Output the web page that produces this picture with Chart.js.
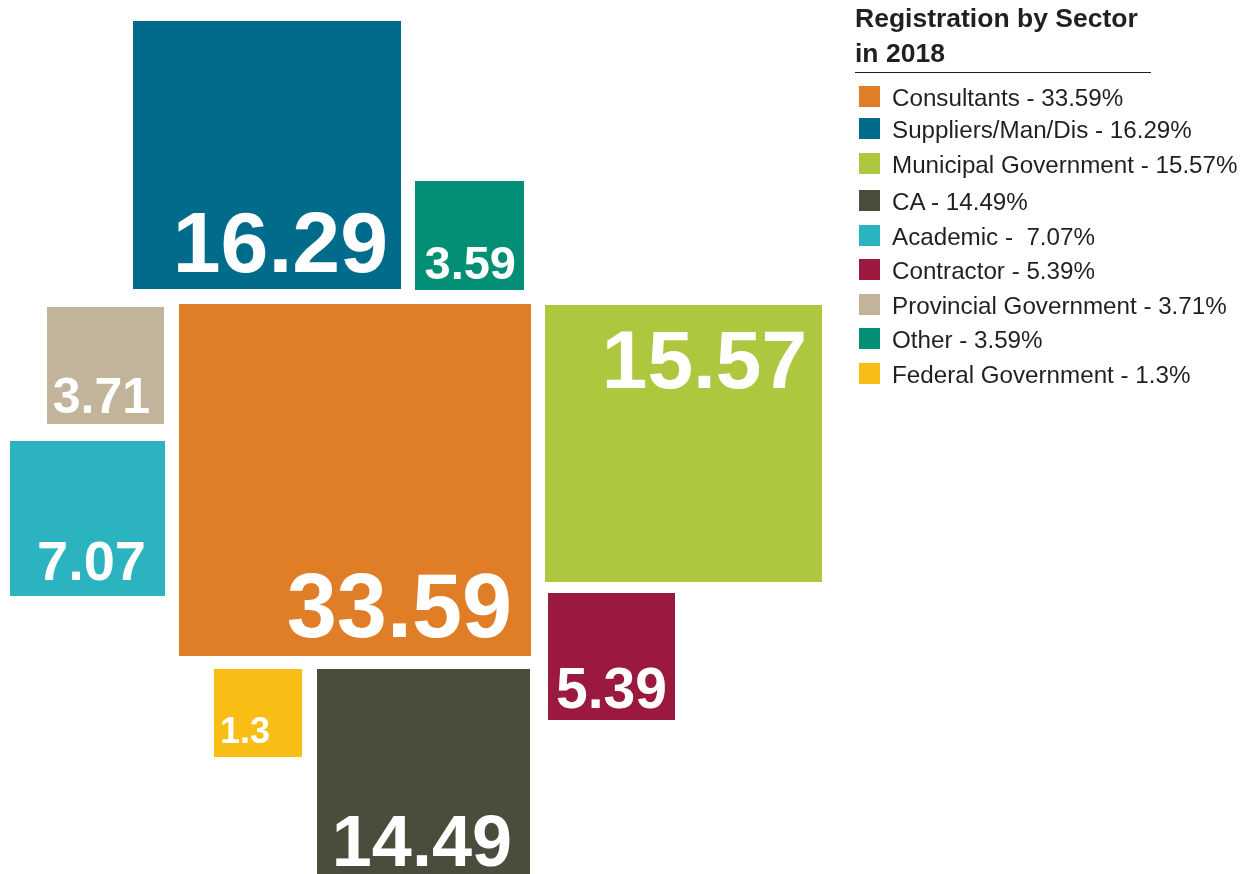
<!DOCTYPE html>
<html>
<head>
<meta charset="utf-8">
<script src="https://cdn.jsdelivr.net/npm/chart.js@4"></script>
<style>
	html, body { margin: 0; padding: 0; background: #fff; }
	#wrap { position: relative; width: 1259px; height: 874px; overflow: hidden; }
	#chart-squares { position: absolute; left: 0; top: 0; }
	#legend { position: absolute; left: 855px; top: 0; font-family: "Liberation Sans", Arial, sans-serif; color: #231f20; }
	#legend h1 { margin: 0; font-size: 26.5px; line-height: 35px; font-weight: bold; padding-top: 1px; width: 296px; border-bottom: 1px solid #231f20; padding-bottom: 1px; }
	#legend .item { position: absolute; left: 4px; height: 22px; white-space: pre; font-size: 24.2px; line-height: 22px; }
	#legend .sw { position: absolute; left: 0; top: 0; width: 21px; height: 21px; }
	#legend .tx { position: absolute; left: 33px; top: 1px; }
</style>
</head>
<body>
<div id="wrap">
	<canvas id="chart-squares" width="1259" height="874"></canvas>
	<div id="legend"><h1>Registration by Sector<br>in 2018</h1></div>
</div>
<script>
// Chart data
const SECTORS = ["Consultants", "Suppliers/Man/Dis", "Municipal Government", "CA", "Academic", "Contractor", "Provincial Government", "Other", "Federal Government"];
const SHARES = [33.59, 16.29, 15.57, 14.49, 7.07, 5.39, 3.71, 3.59, 1.3];
const LEGEND_SEP = [" - ", " - ", " - ", " - ", " -  ", " - ", " - ", " - ", " - "];

// Colours
const COLORS = ["#e07e27", "#006b8a", "#adc83e", "#4a4d3c", "#2cb3c0", "#9b193e", "#c1b49a", "#028f76", "#f8be16"];

// Layout (in scale units, 1 unit = 1 px)
const BOX_LEFT = [179, 133, 545, 317, 10, 548, 47, 415, 214];
const BOX_TOP = [304, 21, 305, 669, 441, 593, 307, 181, 669];
const BOX_SIDE = [352, 268, 277, 213, 155, 127, 117, 109, 88];
const LABEL_SIZE = [90, 86, 82, 72, 56, 57, 50, 47, 36];
// corner the label hangs from, and its offsets
const LABEL_CORNER = ["br", "br", "tr", "br", "br", "br", "br", "br", "bl"];
const LABEL_DX = [19, 13, 15, 18, 19, 8, 14, 8, 6];
const LABEL_DY = [19, 17, 83, 16, 16, 12, 11, 11, 14];
const LEGEND_TOP = [86, 118, 153, 190, 225, 259, 294, 328, 363];

const squareLabels = {
	id: "squareLabels",
	afterDatasetsDraw(chart) {
		const { ctx, scales } = chart;
		ctx.save();
		ctx.fillStyle = "#ffffff";
		ctx.textBaseline = "alphabetic";
		SHARES.forEach((v, i) => {
			const l = scales.x.getPixelForValue(BOX_LEFT[i]);
			const r = scales.x.getPixelForValue(BOX_LEFT[i] + BOX_SIDE[i]);
			const t = scales.y.getPixelForValue(BOX_TOP[i]);
			const b = scales.y.getPixelForValue(BOX_TOP[i] + BOX_SIDE[i]);
			ctx.font = "bold " + LABEL_SIZE[i] + "px 'Liberation Sans', Arial, sans-serif";
			const c = LABEL_CORNER[i];
			let x, y;
			if (c[1] === "r") {
				ctx.textAlign = "right";
				x = r - LABEL_DX[i];
			} else {
				ctx.textAlign = "left";
				x = l + LABEL_DX[i];
			}
			y = c[0] === "b" ? b - LABEL_DY[i] : t + LABEL_DY[i];
			ctx.fillText(String(v), x, y);
		});
		ctx.restore();
	},
};

const DATA = {
	datasets: [
		{
			data: SHARES.map((v, i) => ({ x: BOX_LEFT[i] + BOX_SIDE[i] / 2, y: BOX_TOP[i] + BOX_SIDE[i] / 2 })),
			pointStyle: "rect",
			pointRadius: BOX_SIDE.map((s) => s * Math.SQRT1_2),
			pointHoverRadius: BOX_SIDE.map((s) => s * Math.SQRT1_2),
			backgroundColor: COLORS,
			hoverBackgroundColor: COLORS,
			borderWidth: 0,
			hoverBorderWidth: 0,
			clip: false,
		},
	],
};

const CONFIG = {
	type: "scatter",
	data: DATA,
	options: {
		responsive: false,
		animation: false,
		events: [],
		layout: { autoPadding: false, padding: 0 },
		plugins: {
			legend: { display: false },
			title: { display: false },
			tooltip: { enabled: false },
		},
		scales: {
			x: { type: "linear", min: 0, max: 1259, display: false },
			y: { type: "linear", min: 0, max: 874, reverse: true, display: false },
		},
	},
	plugins: [squareLabels],
};

new Chart(document.getElementById("chart-squares"), CONFIG);

// Legend
const LEGEND = document.getElementById("legend");
SECTORS.forEach((name, i) => {
	const item = document.createElement("div");
	item.className = "item";
	item.style.top = LEGEND_TOP[i] + "px";
	const sw = document.createElement("span");
	sw.className = "sw";
	sw.style.background = COLORS[i];
	const tx = document.createElement("span");
	tx.className = "tx";
	tx.textContent = name + LEGEND_SEP[i] + SHARES[i] + "%";
	item.appendChild(sw);
	item.appendChild(tx);
	LEGEND.appendChild(item);
});
</script>
</body>
</html>
